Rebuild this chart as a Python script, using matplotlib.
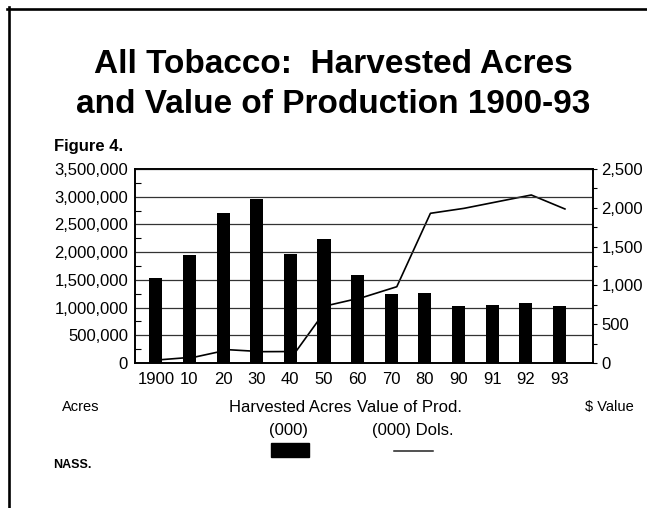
import matplotlib
matplotlib.use("Agg")
import matplotlib.pyplot as plt
from matplotlib.lines import Line2D
from matplotlib.patches import Rectangle
from matplotlib.ticker import MultipleLocator, FuncFormatter

plt.rcParams["font.family"] = ["Liberation Sans", "DejaVu Sans"]

# data
years = ["1900", "10", "20", "30", "40", "50", "60", "70", "80", "90", "91", "92", "93"]
acres = [1530000, 1950000, 2700000, 2960000, 1970000, 2230000, 1590000,
         1240000, 1270000, 1020000, 1050000, 1080000, 1020000]
value = [43, 77, 171, 146, 148, 747, 847, 983, 1929, 1993, 2079, 2165, 1985]

W, H = 647, 508
fig = plt.figure(figsize=(W / 100, H / 100), dpi=100)


def fx(px):
    return px / W


def fy(py):
    return 1 - py / H


ax = fig.add_axes([fx(135), fy(363), fx(593) - fx(135), fy(169) - fy(363)])
ax2 = ax.twinx()
# bars drawn above the value line
ax.set_zorder(ax2.get_zorder() + 1)
ax.patch.set_visible(False)

pos = list(range(len(years)))
ax.bar(pos, acres, width=0.39, color="black", zorder=3)
ax2.plot([p + 0.165 for p in pos], value, color="black", lw=1.2)

ax.set_xlim(-0.62, 13.0)
ax.set_ylim(0, 3500000)
ax2.set_ylim(0, 2500)

ax.set_xticks(pos)
ax.set_xticklabels(years, fontsize=12)
ax.tick_params(axis="x", length=0, pad=6.5)

ax.yaxis.set_major_locator(MultipleLocator(500000))
ax.yaxis.set_minor_locator(MultipleLocator(250000))
ax.yaxis.set_major_formatter(FuncFormatter(lambda v, p: f"{int(v):,}"))
ax.tick_params(axis="y", which="major", direction="in", length=0, labelsize=12, pad=5)
ax.tick_params(axis="y", which="minor", direction="in", length=4, width=0.8)
ax.grid(axis="y", color="#333333", lw=0.9, zorder=1)
ax.set_axisbelow(True)

ax2.yaxis.set_major_locator(MultipleLocator(500))
ax2.yaxis.set_minor_locator(MultipleLocator(250))
ax2.yaxis.set_major_formatter(FuncFormatter(lambda v, p: f"{int(v):,}"))
ax2.tick_params(axis="y", which="major", direction="out", length=3, width=0.8, labelsize=12, pad=3)
ax2.tick_params(axis="y", which="minor", direction="out", length=3, width=0.8)

for a in (ax, ax2):
    for s in a.spines.values():
        s.set_linewidth(1.2)

# titles and labels
fig.text(fx(333), fy(73), "All Tobacco:  Harvested Acres", fontsize=24,
         fontweight="bold", ha="center", va="baseline")
fig.text(fx(333), fy(113), "and Value of Production 1900-93", fontsize=24,
         fontweight="bold", ha="center", va="baseline")
fig.text(fx(54), fy(151), "Figure 4.", fontsize=12, fontweight="bold",
         ha="left", va="baseline")

fig.text(fx(62), fy(407), "Acres", fontsize=10.5, ha="left", va="center")
fig.text(fx(585), fy(407), "$ Value", fontsize=10.5, ha="left", va="center")
fig.text(fx(229), fy(407), "Harvested Acres", fontsize=12, ha="left", va="center")
fig.text(fx(357), fy(407), "Value of Prod.", fontsize=12, ha="left", va="center")
fig.text(fx(289), fy(431), "(000)", fontsize=12, ha="center", va="center")
fig.text(fx(413), fy(431), "(000) Dols.", fontsize=12, ha="center", va="center")
fig.text(fx(53), fy(465), "NASS.", fontsize=9, fontweight="bold", ha="left", va="center")

# legend swatches
fig.patches.append(Rectangle((fx(271), fy(457)), fx(309) - fx(271), fy(443) - fy(457),
                             transform=fig.transFigure, color="black"))
fig.lines.append(Line2D([fx(394), fx(433)], [fy(451), fy(451)],
                        transform=fig.transFigure, color="#222222", lw=1.1))

# page border (top and left only)
fig.lines.append(Line2D([fx(7), 1], [fy(8.5), fy(8.5)], transform=fig.transFigure,
                        color="black", lw=1.9))
fig.lines.append(Line2D([fx(8.5), fx(8.5)], [fy(7), 0], transform=fig.transFigure,
                        color="black", lw=1.9))

fig.savefig("out.png", dpi=100)
